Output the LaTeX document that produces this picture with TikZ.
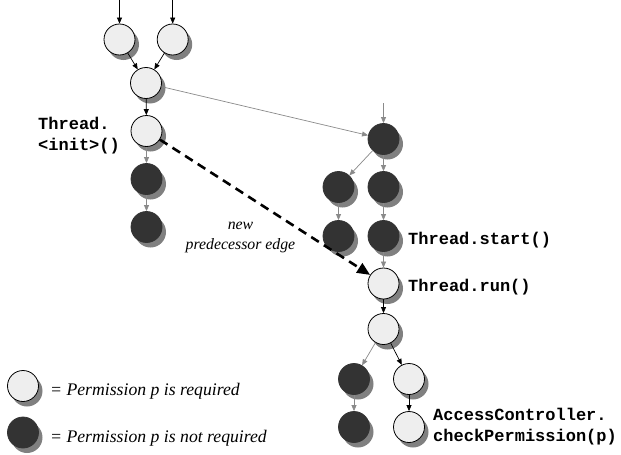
\documentclass[tikz,border=0pt]{standalone}
\usepackage{fontspec}
\setmainfont{Liberation Serif}
\setmonofont{Liberation Mono}
\usetikzlibrary{arrows.meta,shadows}
\definecolor{lightfill}{HTML}{EEEEEE}
\definecolor{darkfill}{HTML}{333333}
\definecolor{shadowgray}{HTML}{808080}
\definecolor{edgegray}{HTML}{8A8A8A}
\begin{document}
\begin{tikzpicture}[x=1pt,y=-1pt,
  base/.style={circle,minimum size=31pt,inner sep=0pt,
    drop shadow={shadow xshift=4pt,shadow yshift=-5pt,fill=shadowgray,opacity=1}},
  req/.style={base,draw=black,line width=0.8pt,fill=lightfill},
  notreq/.style={base,draw=darkfill,line width=0.8pt,fill=darkfill},
  blk/.style={draw=black,line width=0.7pt,-{Triangle[length=6pt,width=5pt]}},
  gry/.style={draw=edgegray,line width=0.7pt,-{Triangle[length=6pt,width=5pt]}},
  newedge/.style={draw=black,line width=2.6pt,dash pattern=on 9pt off 6pt,-{Triangle[length=13pt,width=11pt]}},
  codelbl/.style={inner sep=0pt,anchor=base west,font=\ttfamily\bfseries\fontsize{17}{22}\selectfont},
  leglbl/.style={inner sep=0pt,anchor=base west,font=\itshape\fontsize{17.7}{22}\selectfont},
  edgelbl/.style={inner sep=0pt,anchor=base,font=\itshape\fontsize{15.8}{20}\selectfont}]
\useasboundingbox (0,0) rectangle (621,455);

% left part
\node[req] (a) at (119.5,39.5) {};
\node[req] (b) at (172.7,39.5) {};
\node[req] (c) at (146,83) {};
\node[req] (init) at (146.5,131) {};
\node[notreq] (d1) at (146.5,179) {};
\node[notreq] (d2) at (146.5,227) {};
\coordinate (ain) at (119.5,0);
\coordinate (bin) at (172.7,0);

% right part
\node[notreq] (r0) at (383.5,139) {};
\node[notreq] (r1l) at (338.5,187) {};
\node[notreq] (r1r) at (383.5,187) {};
\node[notreq] (r2l) at (338.5,236) {};
\node[notreq] (start) at (383.5,236) {};
\node[req] (run) at (383.5,283.5) {};
\node[req] (p) at (383.5,329) {};
\node[notreq] (pl) at (354,379) {};
\node[req] (pr) at (409,379) {};
\node[notreq] (pl2) at (354,427) {};
\node[req] (check) at (409,427) {};
\coordinate (r0in) at (383.5,103);

% legend
\node[req] (legreq) at (23,386) {};
\node[notreq] (legnot) at (23,432.5) {};

% edges
\draw[blk] (ain) -- (a);
\draw[blk] (bin) -- (b);
\draw[blk] (a) -- (c);
\draw[blk] (b) -- (c);
\draw[blk] (c) -- (init);
\draw[gry] (init) -- (d1);
\draw[gry] (d1) -- (d2);
\draw[gry] (c) -- (r0);
\draw[gry] (r0in) -- (r0);
\draw[gry] (r0) -- (r1l);
\draw[gry] (r0) -- (r1r);
\draw[gry] (r1l) -- (r2l);
\draw[gry] (r1r) -- (start);
\draw[gry] (start) -- (run);
\draw[blk] (run) -- (p);
\draw[gry] (p) -- (pl);
\draw[blk] (p) -- (pr);
\draw[gry] (pl) -- (pl2);
\draw[blk] (pr) -- (check);
\draw[newedge] (init) -- (run);

% labels
\node[codelbl] (tinit1) at (38,129) {Thread.};
\node[codelbl] (tinit2) at (38,150) {<init>()};
\node[codelbl] (tstart) at (408,244) {Thread.start()};
\node[codelbl] (trun) at (408,291) {Thread.run()};
\node[codelbl] (ac1) at (433,420) {AccessController.};
\node[codelbl] (ac2) at (433,441) {checkPermission(p)};
\node[edgelbl] (new1) at (240.5,229) {new};
\node[edgelbl] (new2) at (240.5,249) {predecessor edge};
\node[leglbl] (legt1) at (50,395) {= Permission p is required};
\node[leglbl] (legt2) at (50,442.5) {= Permission p is not required};
\end{tikzpicture}
\end{document}
